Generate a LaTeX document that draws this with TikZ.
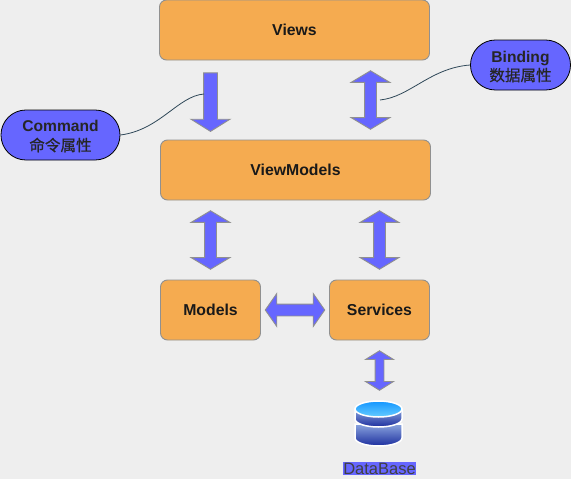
\documentclass[tikz,border=0pt]{standalone}
\usepackage{fontspec}
\setmainfont{Liberation Sans}
\newfontfamily\cjk[FakeBold=0.6]{Noto Sans CJK SC}
\usetikzlibrary{arrows.meta,positioning,calc,shapes.arrows}

\definecolor{pagebg}{HTML}{EEEEEE}
\definecolor{boxfill}{HTML}{F5AB50}
\definecolor{boxline}{HTML}{909090}
\definecolor{blockblue}{HTML}{6666FF}
\definecolor{linkline}{HTML}{2F4858}
\definecolor{dbtop}{HTML}{1496FF}
\definecolor{dbmid}{HTML}{66CCFF}
\definecolor{dbbody}{HTML}{8AA4DE}
\definecolor{dbdark}{HTML}{1C2E9E}

\newcommand{\taglines}[2]{\raisebox{-1.5pt}[\height][\depth]{#1}\\\raisebox{-1.5pt}[\height][\depth]{\cjk\mdseries #2}}

\begin{document}
\begin{tikzpicture}[x=1pt, y=-1pt, on grid]

\tikzstyle{box}=[rounded corners=7pt, draw=boxline, fill=boxfill, line width=0.9pt, minimum height=60pt, text=black!90, font=\fontsize{15.8}{18}\selectfont\bfseries]
\tikzstyle{tag}=[rounded corners=24.9pt, draw=black, fill=blockblue, line width=0.8pt, minimum height=50pt, text=black!85, align=center, font=\fontsize{15.6}{19}\selectfont\bfseries]
\tikzstyle{block}=[draw=boxline, fill=blockblue, minimum height=58.5pt, line width=0.9pt]
\tikzstyle{updown}=[block, double arrow, rotate=90, inner sep=5.5pt, double arrow head extend=13.5pt, double arrow tip angle=118]
\tikzstyle{link}=[draw=linkline, line width=0.8pt]
\tikzstyle{drum}=[top color=dbbody, middle color=dbbody!80!dbdark, bottom color=dbdark, draw=white, line width=1.5pt]

\useasboundingbox (0,0) rectangle (571,479);
\fill[pagebg] (0,0) rectangle (571,479);

% boxes
\node[box, minimum width=270pt] (views) at (294.5,30) {Views};
\node[box, minimum width=270pt, below=140pt of views, xshift=1pt] (viewmodels) {ViewModels};
\node[box, minimum width=100pt] (models) at (210.5,310) {Models};
\node[box, minimum width=100pt, right=169pt of models] (services) {Services};

% block arrows
\node[block, single arrow, rotate=-90, inner sep=6.5pt, single arrow head extend=12.5pt, single arrow tip angle=116] (cmdarrow) at (210.5,100) {};
\node[updown] (bindarrow) at (370.5,100) {};
\node[updown] (vmmodels) at (210.5,240) {};
\node[updown] (vmservices) at (379.5,240) {};
\node[updown, rotate=-90, minimum height=59.5pt, double arrow head extend=10.5pt, double arrow tip angle=110] (modelservices) at (295,310) {};
\node[updown, minimum height=39.5pt, inner sep=4pt, double arrow head extend=9.5pt, double arrow tip angle=116] (servicesdb) at (379.5,370.5) {};

% tags
\node[tag, minimum width=119pt] (command) at (60.5,135) {\taglines{Command}{命令属性}};
\node[tag, minimum width=100pt] (binding) at (520.5,65) {\taglines{Binding}{数据属性}};

\coordinate (cmdend) at (204,94);
\coordinate (bindend) at (380,100);
\draw[link] (command.east) .. controls (160,130) and (178,96) .. (cmdend);
\draw[link] (bindend) .. controls (410,97) and (430,68) .. (binding.west);

% database
\shade[drum] (355,424) -- (355,438) arc[start angle=180, end angle=360, x radius=23.5pt, y radius=8pt] -- (402,424) -- cycle;
\shade[drum] (355,409) -- (355,419) arc[start angle=180, end angle=360, x radius=23.5pt, y radius=8pt] -- (402,409) -- cycle;
\shade[top color=dbtop, bottom color=dbmid, draw=white, line width=1.5pt] (378.5,409) ellipse[x radius=23.5pt, y radius=8pt];
\node[fill=blockblue, inner sep=0.5pt, text=black!75, font=\fontsize{16.5}{19}\selectfont] (dblabel) at (379.5,468.5) {DataBase};

\end{tikzpicture}
\end{document}
